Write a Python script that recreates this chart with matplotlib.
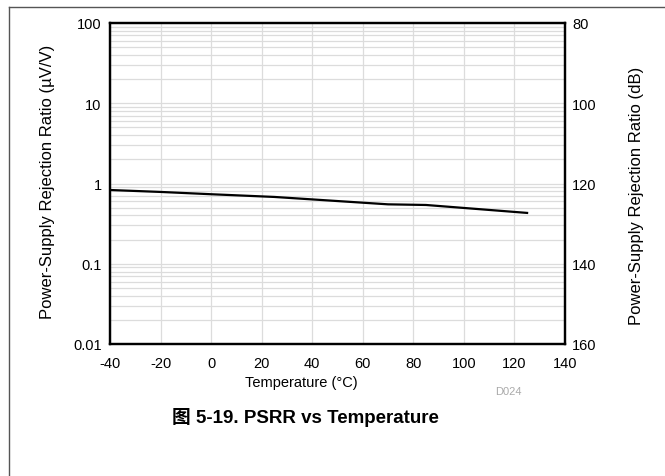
import matplotlib
matplotlib.use('Agg')
import matplotlib.pyplot as plt
from matplotlib.lines import Line2D
from matplotlib.ticker import LogLocator, FixedLocator, NullFormatter

plt.rcParams['font.family'] = ['Liberation Sans', 'DejaVu Sans']

# PSRR vs temperature
temp_c = [-40, -20, 0, 25, 70, 85, 125]
psrr_uv = [0.83, 0.785, 0.735, 0.68, 0.55, 0.54, 0.43]

x_ticks = [-40, -20, 0, 20, 40, 60, 80, 100, 120, 140]
y_ticks = [0.01, 0.1, 1, 10, 100]
y_tick_labels = ['0.01', '0.1', '1', '10', '100']
db_ticks = [80, 100, 120, 140, 160]

W, H = 665, 477
fig = plt.figure(figsize=(W / 100, H / 100), dpi=100)
ax = fig.add_axes([110 / W, 1 - 345 / H, 455 / W, 321 / H])

ax.plot(temp_c, psrr_uv, color='black', linewidth=1.6, zorder=3)

ax.set_xlim(-40, 140)
ax.set_yscale('log')
ax.set_ylim(0.01, 100)
ax.set_xticks(x_ticks)
ax.set_xticklabels([str(t) for t in x_ticks])
ax.set_yticks(y_ticks)
ax.set_yticklabels(y_tick_labels)
ax.yaxis.set_minor_locator(LogLocator(base=10, subs=range(2, 10)))
ax.yaxis.set_minor_formatter(NullFormatter())
ax.grid(True, which='both', color='#dcdcdc', linewidth=0.9, zorder=0)
ax.tick_params(which='both', length=0, labelsize=10.5)
ax.tick_params(axis='x', pad=9)
ax.tick_params(axis='y', pad=6)

for s in ax.spines.values():
    s.set_linewidth(1.6)
    s.set_color('black')

ax2 = ax.twinx()
ax2.set_ylim(160, 80)
ax2.yaxis.set_major_locator(FixedLocator(db_ticks))
ax2.tick_params(length=0, labelsize=10.5, pad=5)
for s in ax2.spines.values():
    s.set_linewidth(1.6)

fig.text(48 / W, 1 - 182 / H, 'Power-Supply Rejection Ratio (µV/V)', rotation=90,
         ha='center', va='center', fontsize=12)
fig.text(636 / W, 1 - 196 / H, 'Power-Supply Rejection Ratio (dB)', rotation=90,
         ha='center', va='center', fontsize=12)

fig.text(301 / W, 1 - 383 / H, 'Temperature (°C)', ha='center', va='center', fontsize=10.5)
fig.text(508 / W, 1 - 392 / H, 'D024', ha='center', va='center', fontsize=8, color='#aaaaaa')
fig.text(305 / W, 1 - 418 / H, '图 5-19. PSRR vs Temperature', ha='center', va='center',
         fontsize=13.5, fontweight='bold', family=['Liberation Sans', 'Noto Sans CJK SC'])

# page frame lines
fig.add_artist(Line2D([8.5 / W, 8.5 / W], [0, 1 - 7.5 / H], transform=fig.transFigure,
                      color='#555555', linewidth=1))
fig.add_artist(Line2D([8.5 / W, 1], [1 - 7.5 / H, 1 - 7.5 / H], transform=fig.transFigure,
                      color='#555555', linewidth=1))

fig.savefig('out.png', dpi=100)
